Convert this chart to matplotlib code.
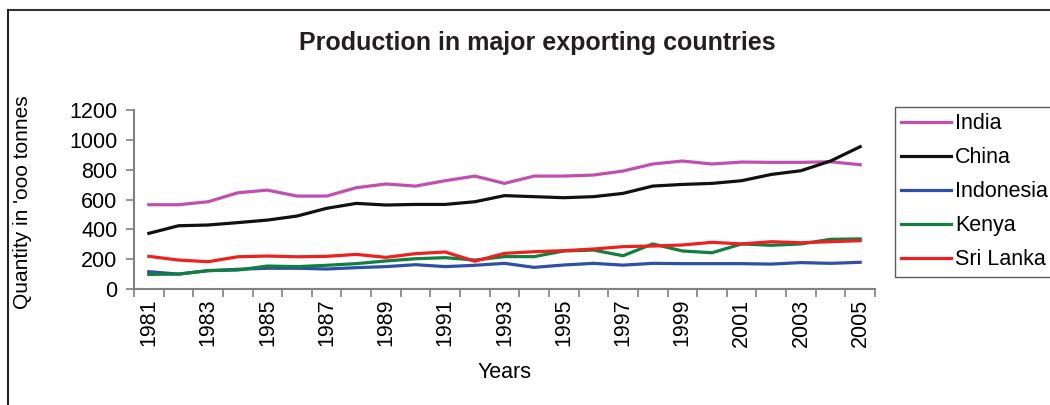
import matplotlib
matplotlib.use("Agg")
import matplotlib.pyplot as plt
from matplotlib.lines import Line2D
import numpy as np

plt.rcParams['font.family'] = ['Liberation Sans', 'DejaVu Sans']

years = list(range(1981, 2006))
india = [565, 565, 585, 645, 663, 623, 623, 679, 704, 690, 726, 757, 708,
         757, 757, 764, 791, 838, 858, 838, 851, 849, 849, 853, 833]
china = [373, 424, 429, 445, 462, 489, 541, 574, 563, 567, 567, 585, 626,
         619, 612, 619, 641, 690, 701, 708, 726, 768, 793, 858, 954]
indonesia = [116, 100, 123, 132, 139, 139, 134, 143, 150, 163, 150, 159, 172,
             145, 161, 172, 160, 172, 170, 170, 170, 167, 177, 172, 179]
kenya = [98, 100, 123, 127, 154, 150, 159, 170, 188, 203, 210, 194, 217,
         217, 255, 261, 223, 302, 255, 243, 302, 293, 302, 333, 336]
sri_lanka = [219, 194, 183, 216, 221, 216, 219, 232, 212, 237, 248, 186, 239,
             250, 257, 268, 284, 288, 295, 313, 302, 317, 310, 317, 324]

series = [("India", india, "#c050b0"),
          ("China", china, "#111111"),
          ("Indonesia", indonesia, "#3050a8"),
          ("Kenya", kenya, "#108040"),
          ("Sri Lanka", sri_lanka, "#ee2020")]

fig = plt.figure(figsize=(10.5, 4.05), dpi=100)
ax = fig.add_axes([134/1050, 1-289/405, (875-134)/1050, (289-110)/405])

x = np.arange(len(years))
for name, vals, col in series:
    ax.plot(x, vals, color=col, lw=2.3, label=name, solid_joinstyle='round')

ax.set_xlim(-0.5, len(years) - 0.5)
ax.set_ylim(0, 1200)
ax.set_yticks(range(0, 1201, 200))
ax.set_xticks(x[::2])
ax.set_xticklabels([str(y) for y in years[::2]], rotation=90, fontsize=15.5)
ax.set_xticks(np.arange(-0.5, len(years), 1), minor=True)
ax.tick_params(axis='x', which='major', length=0, pad=7)
ax.tick_params(axis='x', which='minor', length=6, width=1.2, color='#808080', direction='out')
ax.tick_params(axis='y', labelsize=15.5, length=6, width=1.2, color='#808080', pad=6)
for lbl in ax.get_xticklabels():
    lbl.set_va('top')

for s in ['top', 'right']:
    ax.spines[s].set_visible(False)
for s in ['left', 'bottom']:
    ax.spines[s].set_color('#808080')
    ax.spines[s].set_linewidth(1.5)

ax.set_xlabel("Years", fontsize=15.5)
ax.xaxis.set_label_coords(0.5, -(372-289)/179, transform=ax.transAxes)
ax.xaxis.label.set_va('center')
ax.set_ylabel("Quantity in 'ooo tonnes", fontsize=15)
ax.yaxis.set_label_coords((23-134)/741, (289-202)/179)
ax.yaxis.label.set_va('center')

fig.text(537/1050, 1-43/405, "Production in major exporting countries",
         ha='center', va='center', fontsize=18, fontweight='bold', color='#231f20')

leg = ax.legend(loc='upper left', bbox_to_anchor=(895/1050, 1-107/405),
                bbox_transform=fig.transFigure, fontsize=15.5, frameon=True,
                fancybox=False, edgecolor='#333333', handlelength=2.3,
                handletextpad=0.2, labelspacing=0.6, borderpad=0.3,
                borderaxespad=0)
leg.get_frame().set_linewidth(1.0)

fig.add_artist(Line2D([7.5/1050, 1.0], [1-9.5/405, 1-9.5/405], transform=fig.transFigure,
                      color='#333333', lw=1.5))
fig.add_artist(Line2D([7.5/1050, 7.5/1050], [1-9.5/405, 0], transform=fig.transFigure,
                      color='#222222', lw=1.5))

fig.savefig("out.png", dpi=100)
